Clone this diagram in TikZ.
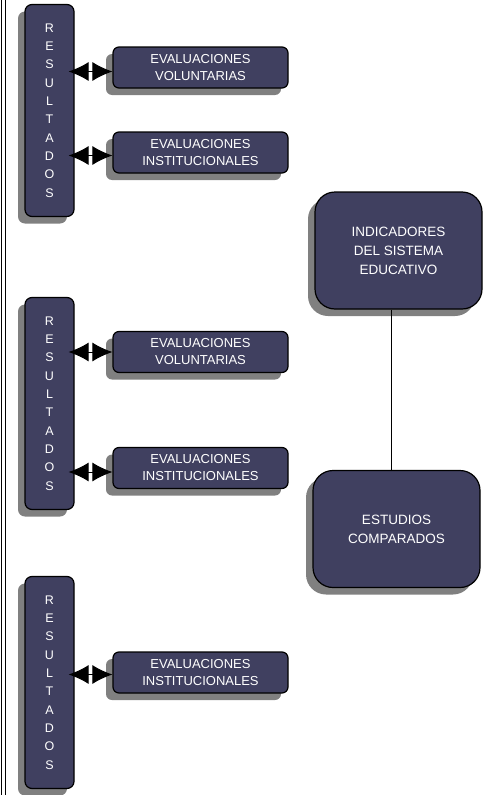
\documentclass[tikz,border=0pt]{standalone}
\usepackage{fontspec}
\setmainfont{Liberation Sans}
\usetikzlibrary{arrows.meta,shadows}
\definecolor{cajafondo}{RGB}{64,64,96}
\tikzset{
    x=1pt,
    y=-1pt,
    sombra/.style = {
        drop shadow={shadow xshift=-7pt, shadow yshift=-7pt, fill=gray, opacity=1}
    },
    resultado/.style = {
        draw,
        shape=rectangle,
        fill=cajafondo,
        text=white,
        minimum width=49pt,
        minimum height=212pt,
        inner sep=0pt,
        line width=1.2pt,
        rounded corners=7pt,
        align=center,
        font=\fontsize{12.5}{18.3}\selectfont,
        sombra
    },
    evaluacion/.style = {
        draw,
        shape=rectangle,
        fill=cajafondo,
        text=white,
        minimum width=175pt,
        minimum height=41pt,
        inner sep=0pt,
        line width=1.2pt,
        rounded corners=6pt,
        align=center,
        font=\fontsize{13}{17}\selectfont,
        sombra
    },
    grande/.style = {
        draw,
        shape=rectangle,
        fill=cajafondo,
        text=white,
        minimum width=167pt,
        minimum height=117pt,
        inner sep=0pt,
        line width=1.2pt,
        rounded corners=20pt,
        align=center,
        font=\fontsize{13.5}{19}\selectfont,
        sombra
    },
    enlace/.style = {
        draw,
        <->,
        line width=1pt,
        shorten >=-6pt
    },
    >={Latex[length=20pt,width=19pt]},
}

\begin{document}
\begin{tikzpicture}
            \useasboundingbox (0,0) rectangle (495,795);
            \draw[line width=0.9pt] (1,0) -- (1,795);
            \draw[line width=0.9pt] (5,0) -- (5,795);

            \node[resultado] (resultados1) at (49.5,110.5) {R\\E\\S\\U\\L\\T\\A\\D\\O\\S};
            \node[resultado] (resultados2) at (49.5,403.5) {R\\E\\S\\U\\L\\T\\A\\D\\O\\S};
            \node[resultado] (resultados3) at (49.5,682.5) {R\\E\\S\\U\\L\\T\\A\\D\\O\\S};

            \node[evaluacion] (voluntarias1) at (200.5,67.5) {EVALUACIONES\\VOLUNTARIAS};
            \node[evaluacion] (institucionales1) at (200.5,152.5) {EVALUACIONES\\INSTITUCIONALES};
            \node[evaluacion] (voluntarias2) at (200.5,352) {EVALUACIONES\\VOLUNTARIAS};
            \node[evaluacion] (institucionales2) at (200.5,468) {EVALUACIONES\\INSTITUCIONALES};
            \node[evaluacion] (institucionales3) at (200.5,672.5) {EVALUACIONES\\INSTITUCIONALES};

            \node[grande] (indicadores) at (398.5,250.5) {INDICADORES\\DEL SISTEMA\\EDUCATIVO};
            \node[grande] (estudios) at (396.5,529) {ESTUDIOS\\COMPARADOS};

            \path[enlace] ([yshift=-4pt]voluntarias1.west) -- ([yshift=-4pt]voluntarias1.west -| resultados1.east);
            \path[enlace] ([yshift=-3pt]institucionales1.west) -- ([yshift=-3pt]institucionales1.west -| resultados1.east);
            \path[enlace] (voluntarias2.west) -- (voluntarias2.west -| resultados2.east);
            \path[enlace] ([yshift=-4pt]institucionales2.west) -- ([yshift=-4pt]institucionales2.west -| resultados2.east);
            \path[enlace] ([yshift=-2pt]institucionales3.west) -- ([yshift=-2pt]institucionales3.west -| resultados3.east);

            \path[draw, line width=1pt] ([xshift=-7pt]indicadores.south) -- ([xshift=-5pt]estudios.north);

        \end{tikzpicture}
\end{document}
